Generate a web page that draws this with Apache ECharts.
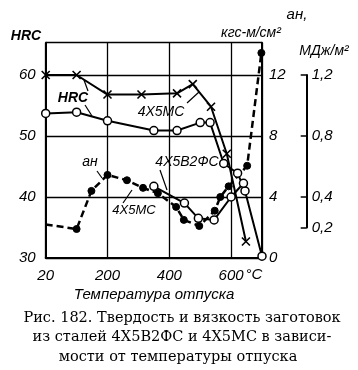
<!DOCTYPE html>
<html>
<head>
<meta charset="utf-8">
<script src="https://cdn.jsdelivr.net/npm/echarts@6/dist/echarts.min.js"></script>
<style>
html,body{margin:0;padding:0;background:#fff;}
#c{width:358px;height:370px;}
</style>
</head>
<body>
<div id="c"></div>
<script>
// Temperature axis: the leftmost position is labelled "20" (room temperature)
const xTickLabels = ['20', '200', '400', '600'];
const hrcTicks = [30, 40, 50, 60];
const akTicks = [0, 4, 8, 12];
const mjTicks = [0.2, 0.4, 0.8, 1.2];

// HRC, steel 4Х5МС (crosses)
const hrcMsT = [0, 100, 200, 310, 425, 476, 535, 586, 648];
const hrcMsV = [60.0, 60.0, 56.8, 56.8, 57.0, 58.5, 54.8, 47.1, 32.7];

// HRC, steel 4Х5В2ФС (open circles)
const hrcVfT = [0, 100, 200, 350, 425, 500, 532, 576, 621, 645, 700];
const hrcVfV = [53.7, 53.9, 52.5, 50.9, 50.9, 52.2, 52.2, 45.5, 43.9, 41.0, 30.3];

// aн (кгс·м/см²), steel 4Х5МС (filled circles, dashed)
const akMsT = [0, 100, 148, 200, 263, 315, 363, 422, 447, 497, 547, 565, 592, 652, 698];
const akMsV = [2.2, 1.9, 4.4, 5.45, 5.1, 4.6, 4.25, 3.35, 2.5, 2.1, 3.1, 4.0, 4.7, 6.05, 13.45];

// aн (кгс·м/см²), steel 4Х5В2ФС (open circles)
const akVfT = [350, 449, 494, 545, 600, 640];
const akVfV = [4.7, 3.6, 2.6, 2.5, 4.0, 4.9];

const pair = (t, v) => t.map((x, i) => [x, v[i]]);

const FONT = 'Liberation Sans';
const SERIF = 'DejaVu Serif';
const lblStyle = {color: '#000', fontFamily: FONT, fontStyle: 'italic', fontSize: 15};
const crossPath = 'path://M0,0L10,10M10,0L0,10';

const chart = echarts.init(document.getElementById('c'), null, {renderer: 'canvas'});

function txt(x, y, text, opt) {
  return Object.assign({type: 'text', x: x, y: y, style: Object.assign({
    text: text, fill: '#000', font: 'italic 14px "' + FONT + '"', align: 'center', verticalAlign: 'middle'
  }, opt || {})});
}
function seg(x1, y1, x2, y2) {
  return {type: 'line', shape: {x1: x1, y1: y1, x2: x2, y2: y2}, style: {stroke: '#000', lineWidth: 1.2}};
}

const option = {
  animation: false,
  backgroundColor: '#fff',
  grid: [
    {left: 45.7, top: 42.7, width: 216.3, height: 215.3},
    {left: 306.7, top: 75, width: 1, height: 152.5}
  ],
  xAxis: [
    {type: 'value', gridIndex: 0, min: 0, max: 700, interval: 200,
      axisLine: {lineStyle: {color: '#000', width: 2}},
      axisTick: {show: false},
      splitLine: {show: true, lineStyle: {color: '#000', width: 1.3}},
      axisLabel: Object.assign({}, lblStyle, {margin: 10, showMaxLabel: false,
        formatter: v => (v === 0 ? xTickLabels[0] : (v === 700 ? '' : String(v)))})
    },
    {type: 'value', gridIndex: 1, show: false, min: 0, max: 1}
  ],
  yAxis: [
    {type: 'value', gridIndex: 0, min: 30, max: 65.3, interval: 10, position: 'left',
      axisLine: {show: true, lineStyle: {color: '#000', width: 2}},
      axisTick: {show: false},
      splitLine: {show: true, lineStyle: {color: '#000', width: 1.3}},
      axisLabel: Object.assign({}, lblStyle, {margin: 10, showMaxLabel: false, fontSize: 15})
    },
    {type: 'value', gridIndex: 0, min: 0, max: 14.12, interval: 4, position: 'right',
      axisLine: {show: true, lineStyle: {color: '#000', width: 2}},
      axisTick: {show: false},
      splitLine: {show: false},
      axisLabel: Object.assign({}, lblStyle, {margin: 7, showMaxLabel: false, fontSize: 15})
    },
    {type: 'value', gridIndex: 1, min: 0.2, max: 1.2, position: 'right',
      axisLine: {show: true, lineStyle: {color: '#000', width: 2}},
      axisTick: {show: true, inside: true, length: 6, lineStyle: {color: '#000', width: 1.5}, customValues: mjTicks},
      splitLine: {show: false},
      axisLabel: Object.assign({}, lblStyle, {margin: 4, fontSize: 15, customValues: mjTicks,
        formatter: v => String(v).replace('.', ',')})
    }
  ],
  series: [
    {name: 'HRC 4Х5МС', type: 'line', xAxisIndex: 0, yAxisIndex: 0, data: pair(hrcMsT, hrcMsV),
      symbol: crossPath, symbolSize: 8,
      itemStyle: {color: '#000', borderColor: '#000', borderWidth: 1.6},
      lineStyle: {color: '#000', width: 2}},
    {name: 'HRC 4Х5В2ФС', type: 'line', xAxisIndex: 0, yAxisIndex: 0, data: pair(hrcVfT, hrcVfV),
      symbol: 'circle', symbolSize: 8,
      itemStyle: {color: '#fff', borderColor: '#000', borderWidth: 1.5},
      lineStyle: {color: '#000', width: 2}, z: 3},
    {name: 'aн 4Х5МС', type: 'line', xAxisIndex: 0, yAxisIndex: 1,
      data: pair(akMsT, akMsV).map((p, i) => i === 0 ? {value: p, symbol: 'none'} : p),
      symbol: 'circle', symbolSize: 7,
      itemStyle: {color: '#000', borderColor: '#000', borderWidth: 1},
      lineStyle: {color: '#000', width: 2.5, type: [7, 4]}, z: 2},
    {name: 'aн 4Х5В2ФС', type: 'line', xAxisIndex: 0, yAxisIndex: 1, data: pair(akVfT, akVfV),
      symbol: 'circle', symbolSize: 8,
      itemStyle: {color: '#fff', borderColor: '#000', borderWidth: 1.5},
      lineStyle: {color: '#000', width: 2}, z: 4}
  ],
  graphic: [
    txt(26, 36, 'HRC', {font: 'italic bold 14px "' + FONT + '"'}),
    txt(251, 33, 'кгс-м/см²', {font: 'italic 14px "' + FONT + '"'}),
    txt(297, 15, 'aн,', {font: 'italic 15px "' + FONT + '"'}),
    txt(324, 51, 'МДж/м²', {font: 'italic 14px "' + FONT + '"'}),
    txt(73, 98, 'HRC', {font: 'italic bold 14px "' + FONT + '"'}),
    txt(161, 112, '4Х5МС', {font: 'italic 14px "' + FONT + '"'}),
    txt(187, 162, '4Х5В2ФС', {font: 'italic 14px "' + FONT + '"'}),
    txt(90, 162, 'aн', {font: 'italic 14px "' + FONT + '"'}),
    txt(134, 210, '4Х5МС', {font: 'italic 13px "' + FONT + '"'}),
    txt(254, 275, '°C', {font: 'italic 15px "' + FONT + '"'}),
    txt(154, 295, 'Температура отпуска', {font: 'italic 15px "' + FONT + '"'}),
    txt(182, 318, 'Рис. 182. Твердость и вязкость заготовок', {font: '14.5px "' + SERIF + '"'}),
    txt(182, 337, 'из сталей 4Х5В2ФС и 4Х5МС в зависи-', {font: '14.5px "' + SERIF + '"'}),
    txt(178, 357, 'мости от температуры отпуска', {font: '14.5px "' + SERIF + '"'}),
    seg(84, 80, 88, 91),
    seg(85, 105, 92, 116),
    seg(187, 103, 199, 92),
    seg(160, 170, 167, 190),
    seg(97, 171, 102, 178),
    seg(123, 203, 132, 190)
  ]
};
chart.setOption(option);
</script>
</body>
</html>
